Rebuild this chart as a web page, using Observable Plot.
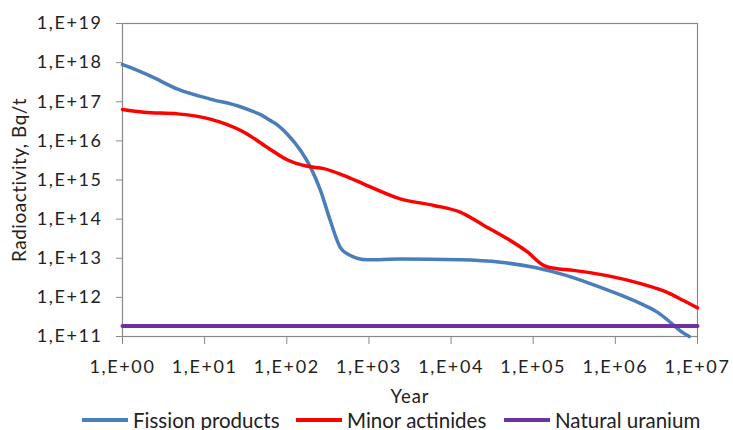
<!DOCTYPE html>
<html>
<head>
<meta charset="utf-8">
<script src="https://cdn.jsdelivr.net/npm/d3@7"></script>
<script src="https://cdn.jsdelivr.net/npm/@observablehq/plot@0.6"></script>
<style>
  html, body { margin: 0; padding: 0; background: #fff; }
  #chart { width: 733px; height: 430px; position: relative; overflow: hidden; font-family: Lato, "Open Sans", sans-serif; }
  #chart svg { display: block; }
  #chart svg g[aria-label="y-axis tick label"] text,
  #chart svg g[aria-label="x-axis tick label"] text { font-size: 18px !important; letter-spacing: 1.6px; }
  .legend { position: absolute; left: 0; top: 409px; width: 733px; height: 21px; }
  .item { position: absolute; top: 0; height: 21px; display: flex; align-items: center; font-size: 20.5px; color: #222; white-space: nowrap; }
  .swatch { width: 46px; height: 4px; margin-right: 5px; }
</style>
</head>
<body>
<div id="chart"></div>
<script>
// Activity of spent fuel components over time (Bq per tonne)
const fissionYears = [1, 1.26, 2.2, 4.7, 11.7, 25, 36, 48, 63, 78, 101, 148, 195, 257, 339, 447, 543, 955, 2400, 12900, 40000, 102000, 257000, 660000, 2.04e6, 3.24e6, 4.68e6, 6.17e6, 7.94e6];
const fissionValues = [8.9e17, 7.4e17, 4.5e17, 2.1e17, 1.17e17, 7.9e16, 6.0e16, 4.7e16, 3.3e16, 2.5e16, 1.5e16, 5.6e15, 2.1e15, 5.4e14, 9.1e13, 1.9e13, 1.3e13, 9.1e12, 9.5e12, 9.1e12, 7.9e12, 5.9e12, 3.6e12, 1.8e12, 6.9e11, 4.2e11, 2.3e11, 1.4e11, 1.0e11];

const actinideYears = [1, 1.82, 4.7, 11.7, 15.5, 30.2, 57.5, 101, 178, 282, 490, 955, 2400, 6170, 12900, 25100, 47900, 85100, 135000, 195000, 309000, 794000, 2.04e6, 4.27e6, 6.76e6, 1e7];
const actinideValues = [6.3e16, 5.4e16, 4.9e16, 3.6e16, 3.0e16, 1.66e16, 6.9e15, 3.3e15, 2.24e15, 1.95e15, 1.32e15, 7.2e14, 3.3e14, 2.24e14, 1.51e14, 6.9e13, 3.2e13, 1.45e13, 6.5e12, 5.4e12, 4.9e12, 3.6e12, 2.24e12, 1.35e12, 8.3e11, 5.4e11];

const uraniumYears = [1, 1e7];
const uraniumValues = [1.85e11, 1.85e11];

const seriesNames = ["Fission products", "Minor actinides", "Natural uranium"];
const seriesColors = ["#4a7ebb", "#ff0000", "#7030a0"];

const xTickValues = [1, 1e1, 1e2, 1e3, 1e4, 1e5, 1e6, 1e7];
const xTickLabels = ["1,E+00", "1,E+01", "1,E+02", "1,E+03", "1,E+04", "1,E+05", "1,E+06", "1,E+07"];
const yTickValues = [1e11, 1e12, 1e13, 1e14, 1e15, 1e16, 1e17, 1e18, 1e19];
const yTickLabels = ["1,E+11", "1,E+12", "1,E+13", "1,E+14", "1,E+15", "1,E+16", "1,E+17", "1,E+18", "1,E+19"];

const xTitle = "Year";
const yTitle = "Radioactivity, Bq/t";

const toRows = (years, values) => years.map((year, i) => ({year, value: values[i]}));
const fission = toRows(fissionYears, fissionValues);
const actinides = toRows(actinideYears, actinideValues);
const uranium = toRows(uraniumYears, uraniumValues);

const xLabel = v => xTickLabels[xTickValues.indexOf(v)];
const yLabel = v => yTickLabels[yTickValues.indexOf(v)];

const gray = "#898989";

const chart = Plot.plot({
  width: 733,
  height: 409,
  marginTop: 23,
  marginRight: 36,
  marginBottom: 73,
  marginLeft: 122,
  style: {fontFamily: "Lato, 'Open Sans', sans-serif", fontSize: "18px", color: "#222", background: "#fff", overflow: "visible"},
  x: {type: "log", domain: [1, 1e7]},
  y: {type: "log", domain: [1e11, 1e19]},
  marks: [
    Plot.frame({stroke: gray, strokeWidth: 1.2}),
    Plot.axisY({ticks: yTickValues, tickFormat: yLabel, tickSize: 6, tickPadding: 14, stroke: gray, label: null}),
    Plot.axisX({ticks: xTickValues, tickFormat: xLabel, tickSize: 8, tickPadding: 16, stroke: gray, label: null}),
    Plot.line(fission, {x: "year", y: "value", stroke: seriesColors[0], strokeWidth: 3.5, curve: "monotone-x"}),
    Plot.line(actinides, {x: "year", y: "value", stroke: seriesColors[1], strokeWidth: 3.5, curve: "monotone-x"}),
    Plot.line(uranium, {x: "year", y: "value", stroke: seriesColors[2], strokeWidth: 4}),
    Plot.text([xTitle], {text: d => d, frameAnchor: "bottom", dy: 61, textAnchor: "middle", lineAnchor: "middle"}),
    Plot.text([yTitle], {text: d => d, frameAnchor: "left", dx: -103, rotate: -90, textAnchor: "middle", lineAnchor: "middle"})
  ]
});

// Axis titles: slightly larger, tracked type
d3.select(chart).selectAll("text")
  .filter(function () { return this.textContent === yTitle; })
  .style("font-size", "19px").style("letter-spacing", "0.5px");
d3.select(chart).selectAll("text")
  .filter(function () { return this.textContent === xTitle; })
  .style("font-size", "18.5px").style("letter-spacing", "1px");

const container = document.getElementById("chart");
container.append(chart);

// Legend below the plot
const legend = document.createElement("div");
legend.className = "legend";
const legendLeft = [82, 296, 504];
seriesNames.forEach((name, i) => {
  const item = document.createElement("div");
  item.className = "item";
  item.style.left = legendLeft[i] + "px";
  const sw = document.createElement("span");
  sw.className = "swatch";
  sw.style.background = seriesColors[i];
  const label = document.createElement("span");
  label.textContent = name;
  item.append(sw, label);
  legend.append(item);
});
container.append(legend);
</script>
</body>
</html>
